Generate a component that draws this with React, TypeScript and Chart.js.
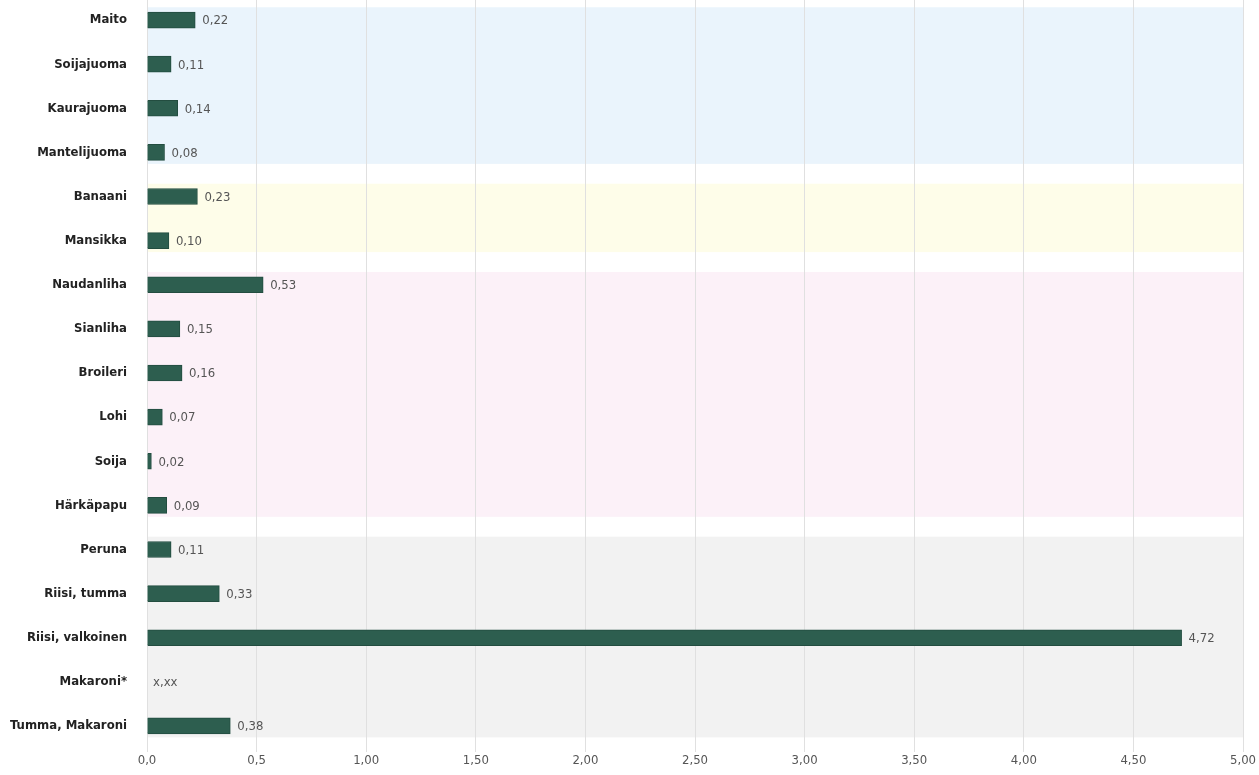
import React, { useEffect, useRef } from "react";
import { Chart, registerables } from "chart.js";

Chart.register(...registerables);

const categories = [
  "Maito", "Soijajuoma", "Kaurajuoma", "Mantelijuoma",
  "Banaani", "Mansikka",
  "Naudanliha", "Sianliha", "Broileri", "Lohi", "Soija", "Härkäpapu",
  "Peruna", "Riisi, tumma", "Riisi, valkoinen", "Makaroni*", "Tumma, Makaroni",
];
const values: (number | null)[] = [
  0.22, 0.11, 0.14, 0.08,
  0.23, 0.10,
  0.53, 0.15, 0.16, 0.07, 0.02, 0.09,
  0.11, 0.33, 4.72, null, 0.38,
];
const missingLabel = "x,xx";
// groups: first index, last index, colour
const groupStarts = [0, 4, 6, 12];
const groupEnds = [3, 5, 11, 16];
const groupColors = ["#eaf4fc", "#fefde9", "#fcf1f8", "#f2f2f2"];
const xTicks = [0, 0.5, 1, 1.5, 2, 2.5, 3, 3.5, 4, 4.5, 5];

const FONT = "'Liberation Sans Narrow', 'DejaVu Sans Condensed', 'Open Sans', sans-serif";

const fmt = (v: number) => (v < 1 ? v.toFixed(1) : v.toFixed(2)).replace(".", ",");
const fmtVal = (v: number) => v.toFixed(2).replace(".", ",");

const bandsPlugin = {
  id: "bands",
  beforeDraw(chart: any) {
    const { ctx, chartArea, scales } = chart;
    const y = scales.y;
    const step = y.getPixelForValue(1) - y.getPixelForValue(0);
    ctx.save();
    groupStarts.forEach((s, i) => {
      const top = y.getPixelForValue(s) - step * 0.29;
      const bot = y.getPixelForValue(groupEnds[i]) + step * 0.26;
      ctx.fillStyle = groupColors[i];
      ctx.fillRect(chartArea.left, top, chartArea.right - chartArea.left, bot - top);
    });
    ctx.restore();
  },
};

const valueLabels = {
  id: "valueLabels",
  afterDatasetsDraw(chart: any) {
    const { ctx, scales } = chart;
    const x = scales.x;
    const y = scales.y;
    ctx.save();
    ctx.font = `13px ${FONT}`;
    ctx.fillStyle = "#555";
    ctx.textBaseline = "middle";
    ctx.textAlign = "left";
    values.forEach((v, i) => {
      const py = y.getPixelForValue(i) + 1;
      if (v === null) {
        ctx.fillText(missingLabel, x.getPixelForValue(0) + 6, py);
      } else {
        ctx.fillText(fmtVal(v), x.getPixelForValue(v) + 7, py);
      }
    });
    ctx.restore();
  },
};

export default function App() {
  const ref = useRef<HTMLCanvasElement>(null);
  useEffect(() => {
    const chart = new Chart(ref.current!, {
      type: "bar",
      data: {
        labels: categories,
        datasets: [
          {
            data: values as any,
            backgroundColor: "#2d5e4f",
            borderColor: "#234d40",
            borderWidth: 1,
            barThickness: 16,
          },
        ],
      },
      options: {
        indexAxis: "y",
        animation: false,
        responsive: true,
        maintainAspectRatio: false,
        layout: { padding: { left: 0, right: 16, top: 0, bottom: 0 } },
        plugins: { legend: { display: false }, tooltip: { enabled: false } },
        scales: {
          x: {
            type: "linear",
            min: 0,
            max: 5,
            afterBuildTicks: (s: any) => {
              s.ticks = xTicks.map((v) => ({ value: v }));
            },
            afterFit: (s: any) => {
              s.height = 27;
              s.paddingLeft = 0;
              s.paddingRight = 0;
            },
            ticks: {
              callback: (v: any) => fmt(Number(v)),
              color: "#555",
              font: { family: FONT, size: 13 },
              padding: 1,
              maxRotation: 0,
            },
            grid: { color: "#e0e0e0", tickLength: 4, drawTicks: true },
            border: { display: false },
          },
          y: {
            type: "category",
            offset: true,
            afterFit: (s: any) => {
              s.width = 147;
              s.paddingTop = 0;
              s.paddingBottom = 0;
            },
            ticks: {
              color: "#222",
              font: { family: FONT, size: 13, weight: "bold" },
              padding: 20,
            },
            grid: { display: false, drawTicks: false },
            border: { display: false },
          },
        },
      },
      plugins: [bandsPlugin, valueLabels],
    });
    return () => chart.destroy();
  }, []);
  return (
    <div style={{ position: "fixed", left: 0, top: -2, width: 1259, height: 777, background: "#fff" }}>
      <canvas ref={ref} />
    </div>
  );
}
